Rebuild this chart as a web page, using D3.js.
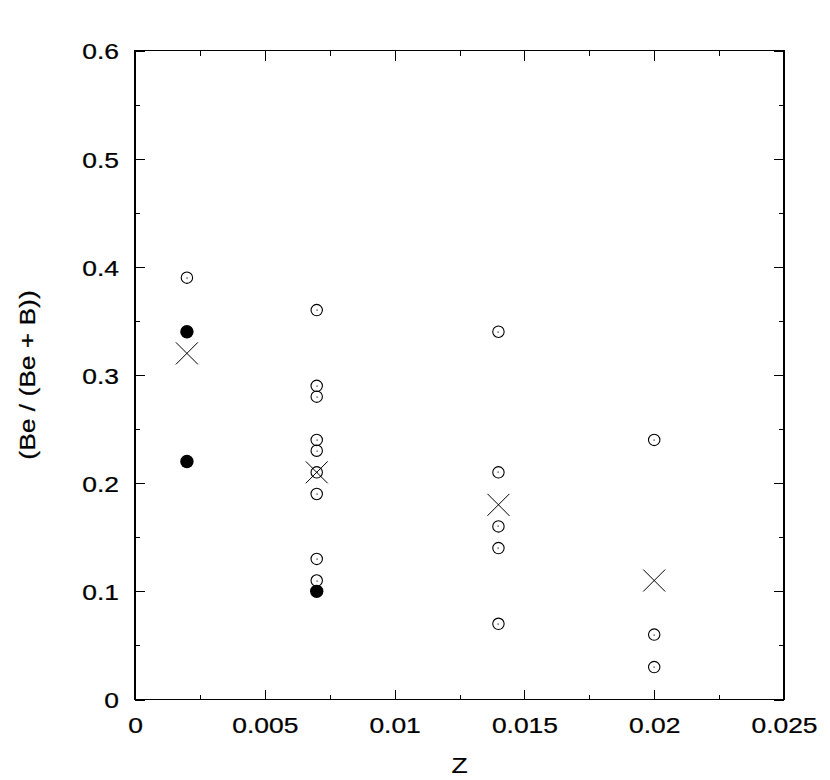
<!DOCTYPE html>
<html>
<head>
<meta charset="utf-8">
<script src="https://cdn.jsdelivr.net/npm/d3@7"></script>
<style>
  html, body { margin: 0; padding: 0; background: #fff; }
  svg { display: block; }
  text { font-family: "Liberation Sans", Arial, Helvetica, sans-serif; fill: #000; }
</style>
</head>
<body>
<svg id="chart" width="830" height="780"></svg>
<script>
// ---- data ----
const openZ     = [0.002, 0.007, 0.007, 0.007, 0.007, 0.007, 0.007, 0.007, 0.007, 0.007, 0.014, 0.014, 0.014, 0.014, 0.014, 0.02, 0.02, 0.02];
const openRatio = [0.39,  0.36,  0.29,  0.28,  0.24,  0.23,  0.21,  0.19,  0.13,  0.11,  0.34,  0.21,  0.16,  0.14,  0.07,  0.24, 0.06, 0.03];
const filledZ     = [0.002, 0.002, 0.007];
const filledRatio = [0.34,  0.22,  0.10];
const meanZ     = [0.002, 0.007, 0.014, 0.02];
const meanRatio = [0.32,  0.21,  0.18,  0.11];

const xMajorTicks = [0, 0.005, 0.01, 0.015, 0.02, 0.025];
const xTickLabels = ["0", "0.005", "0.01", "0.015", "0.02", "0.025"];
const xMinorTicks = [0.0025, 0.0075, 0.0125, 0.0175, 0.0225];
const yMajorTicks = [0, 0.1, 0.2, 0.3, 0.4, 0.5, 0.6];
const yTickLabels = ["0", "0.1", "0.2", "0.3", "0.4", "0.5", "0.6"];
const yMinorTicks = [0.05, 0.15, 0.25, 0.35, 0.45, 0.55];

const xTitle = "Z";
const yTitle = "(Be / (Be + B))";

// ---- layout ----
const L = 135, R = 784, T = 50.5, B = 699.5;
const SX = 1.2;      // horizontal glyph stretch
const FS = 22;       // font size

const svg = d3.select("#chart");
const x = d3.scaleLinear().domain([0, 0.025]).range([L, R]);
const y = d3.scaleLinear().domain([0, 0.6]).range([B, T]);

const labelX = d3.scaleOrdinal().domain(xMajorTicks).range(xTickLabels);
const labelY = d3.scaleOrdinal().domain(yMajorTicks).range(yTickLabels);

function styleAxis(g) {
  g.select(".domain").remove();
  g.selectAll("line").attr("stroke", "#000").attr("stroke-width", 1).attr("shape-rendering", "crispEdges");
}

// bottom
svg.append("g").attr("transform", `translate(0,${B})`)
  .call(d3.axisBottom(x).tickValues(xMajorTicks).tickSize(-10).tickSizeOuter(0).tickFormat(d => labelX(d)))
  .call(styleAxis)
  .call(g => g.selectAll("text")
    .attr("y", 33.5).attr("dy", null)
    .attr("font-size", FS).attr("fill", "#000")
    .attr("stroke", "#000").attr("stroke-width", 0.25)
    .attr("font-family", "Liberation Sans, Arial, sans-serif")
    .attr("transform", `scale(${SX},1)`));
svg.append("g").attr("transform", `translate(0,${B})`)
  .call(d3.axisBottom(x).tickValues(xMinorTicks).tickSize(-5).tickSizeOuter(0).tickFormat(""))
  .call(styleAxis);

// top
svg.append("g").attr("transform", `translate(0,${T})`)
  .call(d3.axisTop(x).tickValues(xMajorTicks).tickSize(-10).tickSizeOuter(0).tickFormat(""))
  .call(styleAxis);
svg.append("g").attr("transform", `translate(0,${T})`)
  .call(d3.axisTop(x).tickValues(xMinorTicks).tickSize(-5).tickSizeOuter(0).tickFormat(""))
  .call(styleAxis);

// left
svg.append("g").attr("transform", `translate(${L},0)`)
  .call(d3.axisLeft(y).tickValues(yMajorTicks).tickSize(-10).tickSizeOuter(0).tickFormat(d => labelY(d)))
  .call(styleAxis)
  .call(g => g.selectAll("text")
    .attr("x", -16 / SX).attr("dy", "0.38em")
    .attr("font-size", FS).attr("fill", "#000")
    .attr("stroke", "#000").attr("stroke-width", 0.25)
    .attr("font-family", "Liberation Sans, Arial, sans-serif")
    .attr("text-anchor", "end")
    .attr("transform", `scale(${SX},1)`));
svg.append("g").attr("transform", `translate(${L},0)`)
  .call(d3.axisLeft(y).tickValues(yMinorTicks).tickSize(-5).tickSizeOuter(0).tickFormat(""))
  .call(styleAxis);

// right
svg.append("g").attr("transform", `translate(${R},0)`)
  .call(d3.axisRight(y).tickValues(yMajorTicks).tickSize(-10).tickSizeOuter(0).tickFormat(""))
  .call(styleAxis);
svg.append("g").attr("transform", `translate(${R},0)`)
  .call(d3.axisRight(y).tickValues(yMinorTicks).tickSize(-5).tickSizeOuter(0).tickFormat(""))
  .call(styleAxis);

// frame
svg.append("rect")
  .attr("x", L).attr("y", T).attr("width", R - L).attr("height", B - T)
  .attr("fill", "none").attr("stroke", "#000").attr("stroke-width", 1.2)
  .attr("shape-rendering", "crispEdges");

// axis titles
svg.append("text")
  .attr("transform", `translate(${(L + R) / 2},773) scale(${SX},1)`)
  .attr("text-anchor", "middle").attr("font-size", FS)
  .attr("stroke", "#000").attr("stroke-width", 0.25)
  .text(xTitle);
svg.append("text")
  .attr("transform", `translate(35,${(T + B) / 2}) rotate(-90) scale(${SX},1)`)
  .attr("text-anchor", "middle").attr("font-size", FS)
  .attr("stroke", "#000").attr("stroke-width", 0.25)
  .text(yTitle);

// ---- marks ----
const openIdx = d3.range(openZ.length);
const og = svg.append("g");
og.selectAll("circle.open").data(openIdx).join("circle")
  .attr("class", "open")
  .attr("cx", i => x(openZ[i])).attr("cy", i => y(openRatio[i]))
  .attr("r", 5.7).attr("fill", "none").attr("stroke", "#000").attr("stroke-width", 1.1);
og.selectAll("rect.dot").data(openIdx).join("rect")
  .attr("class", "dot")
  .attr("x", i => Math.round(x(openZ[i])) - 0.5).attr("y", i => Math.round(y(openRatio[i])) - 0.5)
  .attr("width", 1.2).attr("height", 1.2).attr("fill", "#222");

svg.append("g").selectAll("circle").data(d3.range(filledZ.length)).join("circle")
  .attr("cx", i => x(filledZ[i])).attr("cy", i => y(filledRatio[i]))
  .attr("r", 6.7).attr("fill", "#000");

const s = 11;
svg.append("g").selectAll("path").data(d3.range(meanZ.length)).join("path")
  .attr("d", i => {
    const cx = x(meanZ[i]), cy = y(meanRatio[i]);
    return `M${cx - s},${cy - s}L${cx + s},${cy + s}M${cx - s},${cy + s}L${cx + s},${cy - s}`;
  })
  .attr("fill", "none").attr("stroke", "#000").attr("stroke-width", 1);
</script>
</body>
</html>
